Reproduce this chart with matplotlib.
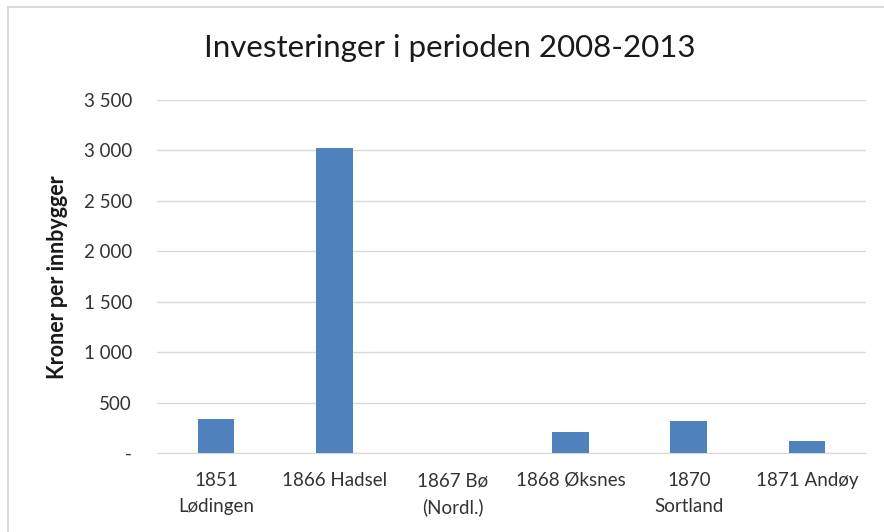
import matplotlib
matplotlib.use("Agg")
import matplotlib.pyplot as plt
from matplotlib.lines import Line2D

plt.rcParams['font.family'] = ['Lato', 'DejaVu Sans']

kommuner = ['1851\nLødingen', '1866 Hadsel', '1867 Bø\n(Nordl.)', '1868 Øksnes', '1870\nSortland', '1871 Andøy']
kroner = [340, 3020, 0, 213, 314, 117]
yticks = [0, 500, 1000, 1500, 2000, 2500, 3000, 3500]
ytick_labels = ['-', '500', '1 000', '1 500', '2 000', '2 500', '3 000', '3 500']

fig = plt.figure(figsize=(8.84, 5.32), dpi=100)
ax = fig.add_axes([157 / 884, 1 - 453 / 532, 709 / 884, 353 / 532])

x = range(len(kommuner))
ax.bar(x, kroner, width=0.31, color='#4F81BD', zorder=3)

ax.set_xlim(-0.5, 5.5)
ax.set_ylim(0, 3500)
ax.set_yticks(yticks)
ax.set_yticklabels(ytick_labels)
ax.set_xticks(list(x))
ax.set_xticklabels(kommuner, linespacing=1.6)
ax.tick_params(axis='y', length=0, pad=18, labelsize=13.5, labelcolor='#333333')
ax.tick_params(axis='x', length=0, pad=14, labelsize=13.5, labelcolor='#333333')

ax.grid(axis='y', color='#d9d9d9', linewidth=1, zorder=0)
for s in ['top', 'right', 'left']:
    ax.spines[s].set_visible(False)
ax.spines['bottom'].set_color('#d9d9d9')

fig.text(450 / 884, 1 - 48 / 532, 'Investeringer i perioden 2008-2013',
         ha='center', va='center', fontsize=22.5, color='#1a1a1a')
fig.text(57 / 884, 1 - 277 / 532, 'Kroner per innbygger', rotation=90,
         ha='center', va='center', fontsize=15.5, fontweight='bold', color='#1a1a1a')

# ramme rundt diagrammet
fig.add_artist(Line2D([8 / 884, 1], [1 - 7 / 532, 1 - 7 / 532], color='#d9d9d9', linewidth=1.5))
fig.add_artist(Line2D([8 / 884, 8 / 884], [0, 1 - 7 / 532], color='#d9d9d9', linewidth=1.5))

fig.savefig('out.png', dpi=100)
